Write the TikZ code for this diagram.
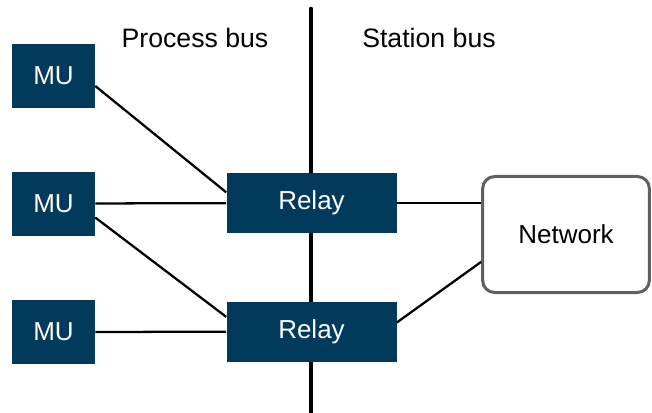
\documentclass[tikz,border=0pt]{standalone}
\usepackage{fontspec}
\setmainfont{Liberation Sans}
\usetikzlibrary{positioning}
\definecolor{RelayBlue}{HTML}{023A5C}
\definecolor{NetGray}{HTML}{606060}

\begin{document}
\begin{tikzpicture}[x=0.75pt, y=-0.75pt,
        % Estilo para MU
        mubox/.style={
                rectangle,
                minimum width=62.25pt,
                minimum height=48pt,
                inner sep=0pt,
                font=\fontsize{19.5}{23}\selectfont,
                text=white,
                fill=RelayBlue
            },
        % Estilo para rele
        relaybox/.style={
                mubox,
                minimum width=127.5pt,
                minimum height=45pt
            },
        % Estilo para red
        netbox/.style={
                rectangle,
                rounded corners=9pt,
                draw=NetGray,
                line width=2.25pt,
                fill=white,
                minimum width=125pt,
                minimum height=87pt,
                inner sep=0pt,
                font=\fontsize{19.5}{23}\selectfont
            },
        buslabel/.style={font=\fontsize{20}{24}\selectfont},
        link/.style={line width=1.7pt},
        bus/.style={line width=3.5pt, line cap=round}
    ]

    \useasboundingbox (0,0) rectangle (652,413);

    % BUS
    \coordinate (bustop) at (311,9);
    \coordinate (busbot) at (311,420);
    \draw[bus] (bustop) -- (busbot);

    \node[buslabel] (process) at (195,38) {Process bus};
    \node[buslabel] (station) at (429,38) {Station bus};

    % MU
    \node[mubox] (mu1) at (53.5,76) {MU};
    \node[mubox, below=47.25pt of mu1] (mu2) {MU};
    \node[mubox, below=48pt of mu2] (mu3) {MU};

    % RELES
    \node[relaybox] (relay1) at (311.5,203) {Relay};
    \node[relaybox, below=51pt of relay1] (relay2) {Relay};

    % RED
    \node[netbox] (net) at (566,234.5) {Network};

    % Conexiones
    \draw[link] ([yshift=-7.5pt]mu1.east) -- ([yshift=8pt]relay1.west);
    \draw[link] (mu2) -- (relay1);
    \draw[link] ([yshift=-10.5pt]mu2.east) -- ([yshift=11pt]relay2.west);
    \draw[link] (mu3) -- (relay2);
    \draw[link] (relay1.east) -- (relay1.east -| net.west);
    \draw[link] ([yshift=6.75pt]relay2.east) -- ([yshift=-20.5pt]net.west);

\end{tikzpicture}
\end{document}
